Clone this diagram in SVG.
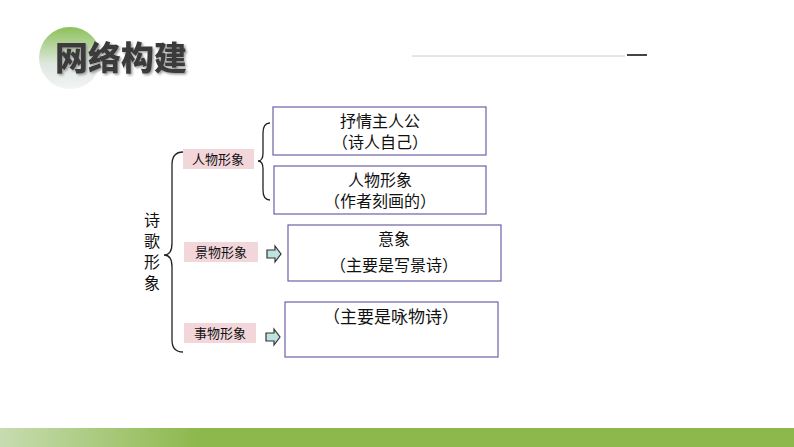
<svg xmlns="http://www.w3.org/2000/svg" width="794" height="447" viewBox="0 0 794 447">
<defs>
<linearGradient id="cg" x1="0" y1="0" x2="0" y2="1"><stop offset="0" stop-color="#8dc05a"/><stop offset="0.6" stop-color="#dfe8e0"/><stop offset="1" stop-color="#f2f4f6"/></linearGradient>
<linearGradient id="bg" x1="0" y1="0" x2="1" y2="0"><stop offset="0" stop-color="#c7dcb0"/><stop offset="0.25" stop-color="#8db84c"/><stop offset="1" stop-color="#8db84c"/></linearGradient>
<filter id="sh"><feDropShadow dx="1.5" dy="1.5" stdDeviation="1" flood-color="#999"/></filter>
</defs>
<style>
.t{font-family:"Noto Sans CJK SC",sans-serif;fill:#111;text-anchor:middle}
.box{fill:#fff;stroke:#6e5fa8;stroke-width:1.2}
.lab{fill:#f2d6da}
.br{fill:none;stroke:#222;stroke-width:1.3}
.ar{fill:#bfe3e0;stroke:#333;stroke-width:1.2}
</style>
<rect width="794" height="447" fill="#fff"/>
<g id="header">
<circle cx="70" cy="58" r="31" fill="url(#cg)"/>
<text x="55" y="70" font-family="Noto Sans CJK SC,sans-serif" font-weight="900" font-size="33" fill="#3a3a3a" filter="url(#sh)">网络构建</text>
<line x1="412" y1="56" x2="625" y2="56" stroke="#ccc" stroke-width="1"/>
<line x1="627" y1="55" x2="647" y2="55" stroke="#444" stroke-width="2"/>
</g>
<rect id="footer" x="0" y="428" width="794" height="19" fill="url(#bg)"/>
<g id="root"><text class="t" font-size="16"><tspan x="152" y="226">诗</tspan><tspan x="152" y="247">歌</tspan><tspan x="152" y="268">形</tspan><tspan x="152" y="289">象</tspan></text></g>
<g id="connectors">
<path class="br" d="M183,152 Q172,152 172,165 L172,243 Q172,255 164,255 Q172,255 172,267 L172,340 Q172,352 183,352"/>
<path class="br" d="M270,123 Q263,123 263,133 L263,153 Q263,161 258,161 Q263,161 263,169 L263,190 Q263,200 270,200"/>
<path class="ar" d="M267,250 L275,250 L275,246 L281,254 L275,262 L275,258 L267,258 Z"/>
<path class="ar" d="M266,333 L274,333 L274,329 L280,337 L274,345 L274,341 L266,341 Z"/>
</g>
<g id="n1"><rect class="lab" x="183" y="149" width="71" height="20"/><text class="t" x="218" y="164" font-size="13">人物形象</text></g>
<g id="n2"><rect class="lab" x="184" y="242" width="74" height="20"/><text class="t" x="221" y="257" font-size="13">景物形象</text></g>
<g id="n3"><rect class="lab" x="184" y="323" width="72" height="20"/><text class="t" x="220" y="338" font-size="13">事物形象</text></g>
<g id="b1"><rect class="box" x="273" y="107" width="213" height="48"/><text class="t" x="380" y="127" font-size="16">抒情主人公</text><text class="t" x="380" y="148" font-size="16">（诗人自己）</text></g>
<g id="b2"><rect class="box" x="274" y="166" width="212" height="48"/><text class="t" x="380" y="186" font-size="16">人物形象</text><text class="t" x="380" y="207" font-size="16">（作者刻画的）</text></g>
<g id="b3"><rect class="box" x="288" y="225" width="213" height="56"/><text class="t" x="394" y="245" font-size="16">意象</text><text class="t" x="394" y="271" font-size="16">（主要是写景诗）</text></g>
<g id="b4"><rect class="box" x="285" y="302" width="213" height="55"/><text class="t" x="391" y="323" font-size="17">（主要是咏物诗）</text></g>
</svg>
